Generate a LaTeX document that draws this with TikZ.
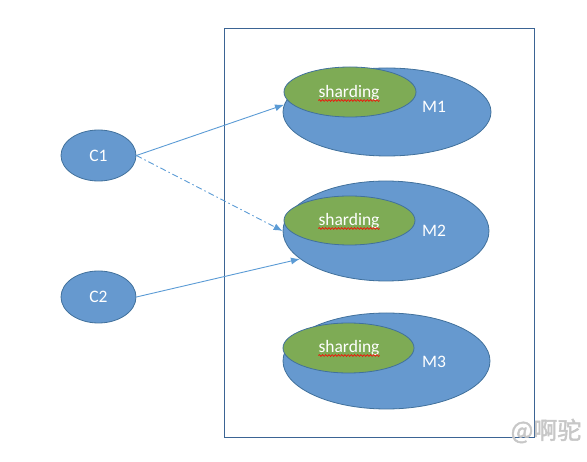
\documentclass[tikz,border=0pt]{standalone}
\usepackage{fontspec}
\setmainfont{Carlito}
\newfontfamily\cjk{Noto Sans CJK SC}[FakeBold=2]
\usetikzlibrary{shapes.geometric,decorations.pathmorphing,arrows.meta}
\definecolor{mblue}{HTML}{6699CF}
\definecolor{mline}{HTML}{41719C}
\definecolor{mframe}{HTML}{3B6494}
\definecolor{mgreen}{HTML}{7EAB55}
\definecolor{marrow}{HTML}{5B9BD5}

\begin{document}
\begin{tikzpicture}
    [   x=1pt,y=-1pt,>={Latex[length=9pt,width=7pt]},
        enode/.style={draw=mline,fill=#1,ellipse,inner sep=0pt,line width=0.8pt,
                      text=white,font=\fontsize{17.5}{20}\selectfont},
        etext/.style={text=white,font=\fontsize{17.5}{20}\selectfont,inner sep=0pt},
        conn/.style={draw=marrow,line width=0.9pt,->},
        squiggle/.style={draw=red,line width=0.6pt,
                         decorate,decoration={snake,amplitude=0.9pt,segment length=3.2pt}},
    ]
        \useasboundingbox (0,0) rectangle (587,462);

        % draw the frame
        \node[draw=mframe,line width=0.9pt,minimum width=310pt,minimum height=409.5pt,
              inner sep=0pt] (frame) at (379.5,232.75) {};

        % draw the nodes
        \node[enode=mblue,minimum width=75pt,minimum height=51pt] (c1) at (98.5,155.5) {C1};
        \node[enode=mblue,minimum width=75pt,minimum height=52pt] (c2) at (98.5,297) {C2};

        \node[enode=mblue,minimum width=208pt,minimum height=88pt] (m1) at (387,112) {};
        \node[enode=mgreen,minimum width=132pt,minimum height=50pt] (s1) at (350,92) {};
        \node[enode=mblue,minimum width=206pt,minimum height=100pt] (m2) at (386,231) {};
        \node[enode=mgreen,minimum width=131pt,minimum height=49pt] (s2) at (349.5,220.5) {};
        \node[enode=mblue,minimum width=207pt,minimum height=96pt] (m3) at (386.5,361) {};
        \node[enode=mgreen,minimum width=131pt,minimum height=50pt] (s3) at (348.5,348) {};

        % draw the texts
        \node[etext,anchor=base] (t1) at (349,98) {sharding};
        \node[etext,anchor=base] (t2) at (349,226) {sharding};
        \node[etext,anchor=base] (t3) at (349,353) {sharding};
        \node[etext] (l1) at (434,107) {M1};
        \node[etext] (l2) at (434,231) {M2};
        \node[etext] (l3) at (434,362) {M3};

        \draw[squiggle] ([yshift=-2.5pt]t1.base west) -- ([yshift=-2.5pt]t1.base east);
        \draw[squiggle] ([yshift=-2.5pt]t2.base west) -- ([yshift=-2.5pt]t2.base east);
        \draw[squiggle] ([yshift=-2.5pt]t3.base west) -- ([yshift=-2.5pt]t3.base east);

        % draw the lines
        \draw[conn] (c1.east) -- (m1.176);
        \draw[conn,dash pattern=on 6pt off 3pt on 1.5pt off 3pt] (c1.east) -- (m2.west);
        \draw[conn] (c2.east) -- (m2.198);

        % watermark
        \node[text=black!22,font=\cjk\fontsize{24}{28}\selectfont,inner sep=0pt] (wm) at (546,431) {@啊驼};
    \end{tikzpicture}
\end{document}
